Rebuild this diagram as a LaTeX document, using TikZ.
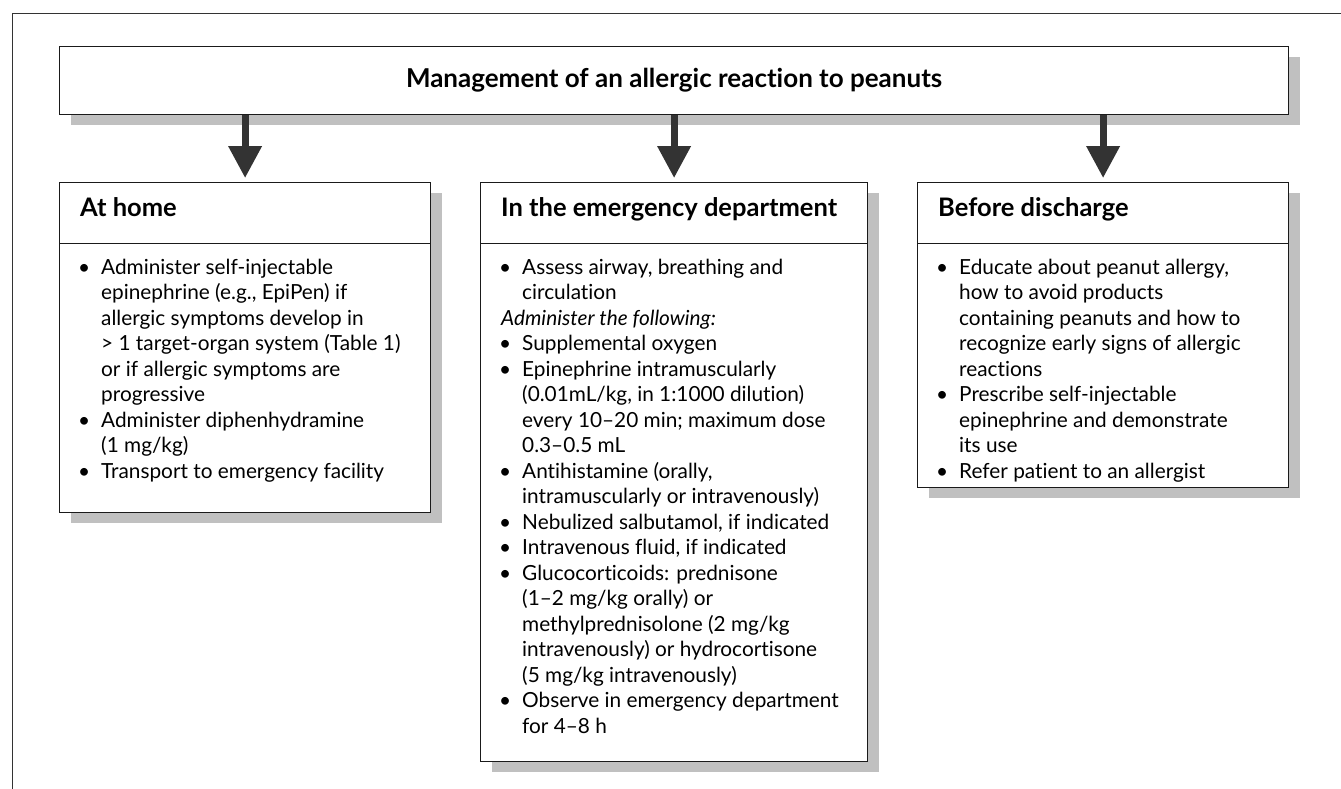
\documentclass[tikz,border=0pt]{standalone}
\usepackage{fontspec}
\setmainfont{Lato}[Ligatures={TeX,NoCommon}]
\usetikzlibrary{arrows.meta,shadows}
\definecolor{shd}{HTML}{C0C0C0}
\definecolor{ink}{HTML}{1A1A1A}
\definecolor{arr}{HTML}{333333}
\newcommand\Bl[1]{\hbox{\llap{\textbullet\kern11pt}#1}}
\newcommand\Cl[1]{\hbox{#1}}
\newcommand\Il[1]{\hbox{\kern-21pt\textit{#1}}}
\newcommand\Lines[1]{\vtop{\baselineskip=25.5pt #1}}
\begin{document}
\begin{tikzpicture}[x=1pt,y=-1pt,
  panel/.style={draw=ink, line width=1.2pt, fill=white, inner sep=0pt, anchor=north west,
    drop shadow={shadow xshift=11pt, shadow yshift=-10pt, fill=shd, opacity=1}},
  head/.style={anchor=base west, inner sep=0pt, font=\fontsize{25.5}{28}\selectfont\bfseries},
  body/.style={anchor=base west, inner sep=0pt, font=\fontsize{20.8}{25.5}\selectfont},
  sep/.style={draw=ink, line width=1.2pt},
  down/.style={draw=arr, line width=7pt, -{Triangle[width=32pt,length=32pt]}, shorten >=4pt}
]
\useasboundingbox (0,0) rectangle (1341,788);
\clip (0,0) rectangle (1341,788);
\draw[draw=arr, line width=1.6pt] (12.5,800) -- (12.5,13.5) -- (1360,13.5);

\node[panel, minimum width=1229pt, minimum height=68pt, font=\fontsize{26}{29}\selectfont\bfseries] (title) at (59,46) {Management of an allergic reaction to peanuts};

% At home
\node[panel, minimum width=371pt, minimum height=330pt] (home) at (59,182) {};
\node[head] (homeh) at (80,216) {At home};
\draw[sep] (59,243.5) -- (430,243.5);
\node[body] (homeb) at (101,274) {\Lines{%
\Bl{Administer self-injectable}%
\Cl{epinephrine (e.g., EpiPen) if}%
\Cl{allergic symptoms develop in}%
\Cl{> 1 target-organ system (Table 1)}%
\Cl{or if allergic symptoms are}%
\Cl{progressive}%
\Bl{Administer diphenhydramine}%
\Cl{(1 mg/kg)}%
\Bl{Transport to emergency facility}}};

% Emergency department
\node[panel, minimum width=387pt, minimum height=579pt] (ed) at (480,182) {};
\node[head] (edh) at (501,216) {In the emergency department};
\draw[sep] (480,243.5) -- (867,243.5);
\node[body] (edb) at (522,274) {\Lines{%
\Bl{Assess airway, breathing and}%
\Cl{circulation}%
\Il{Administer the following:}%
\Bl{Supplemental oxygen}%
\Bl{Epinephrine intramuscularly}%
\Cl{(0.01mL/kg, in 1:1000 dilution)}%
\Cl{every 10–20 min; maximum dose}%
\Cl{0.3–0.5 mL}%
\Bl{Antihistamine (orally,}%
\Cl{intramuscularly or intravenously)}%
\Bl{Nebulized salbutamol, if indicated}%
\Bl{Intravenous fluid, if indicated}%
\Bl{Glucocorticoids: prednisone}%
\Cl{(1–2 mg/kg orally) or}%
\Cl{methylprednisolone (2 mg/kg}%
\Cl{intravenously) or hydrocortisone}%
\Cl{(5 mg/kg intravenously)}%
\Bl{Observe in emergency department}%
\Cl{for 4–8 h}}};

% Before discharge
\node[panel, minimum width=371pt, minimum height=305pt] (dis) at (917,182) {};
\node[head] (dish) at (938,216) {Before discharge};
\draw[sep] (917,243.5) -- (1288,243.5);
\node[body] (disb) at (959,274) {\Lines{%
\Bl{Educate about peanut allergy,}%
\Cl{how to avoid products}%
\Cl{containing peanuts and how to}%
\Cl{recognize early signs of allergic}%
\Cl{reactions}%
\Bl{Prescribe self-injectable}%
\Cl{epinephrine and demonstrate}%
\Cl{its use}%
\Bl{Refer patient to an allergist}}};

\draw[down] (title.south -| home.north) -- (home.north);
\draw[down] (title.south -| ed.north) -- (ed.north);
\draw[down] (title.south -| dis.north) -- (dis.north);
\end{tikzpicture}
\end{document}
